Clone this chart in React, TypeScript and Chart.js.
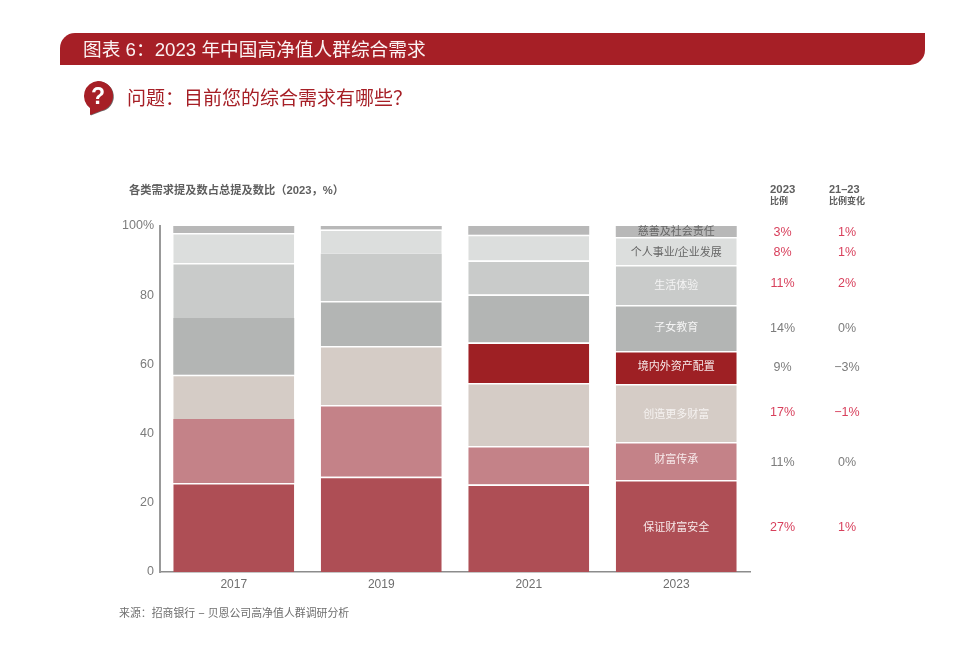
import React, { useEffect, useRef } from "react";
import { Chart, registerables } from "chart.js";

Chart.register(...registerables);

const years = ["2017", "2019", "2021", "2023"];
const needs = ["保证财富安全", "财富传承", "创造更多财富", "境内外资产配置", "子女教育", "生活体验", "个人事业/企业发展", "慈善及社会责任"];
const safety = [25.7, 27.5, 25.3, 26.6];
const inheritance = [18.5, 20.8, 11.1, 11.0];
const moreWealth = [12.8, 17.0, 18.2, 16.7];
const overseas = [0, 0, 11.7, 9.6];
const education = [16.4, 13.0, 13.9, 13.3];
const lifestyle = [15.9, 13.7, 9.8, 11.5];
const career = [8.7, 7.0, 7.5, 8.1];
const charity = [2.0, 1.0, 2.5, 3.2];
const share2023 = ["27%", "11%", "17%", "9%", "14%", "11%", "8%", "3%"];
const change2123 = ["1%", "0%", "−1%", "−3%", "0%", "2%", "1%", "1%"];

const seriesValues = [safety, inheritance, moreWealth, overseas, education, lifestyle, career, charity];
const fills = ["#AE4E55", "#C48288", "#D5CCC6", "#9E2024", "#B3B5B4", "#C9CBCA", "#DCDEDD", "#B8B8B8"];
const labelColours = ["#F7E9EA", "#F7E9EA", "#F5F2F0", "#F7E9EA", "#F4F4F4", "#F4F4F4", "#666666", "#666666"];
const shareHot = [true, false, true, false, false, true, true, true];
const changeHot = [true, false, true, false, false, true, true, true];
const labelNudge = [2, 0, 2, 0, 1, 1, 2, 1];
const valueNudge = [3, 3, 1, 1, 2, 0, 2, 2];

// Series whose top edge has no white separator, per year.
const seamlessTop: Record<string, number[]> = { "2017": [1, 4, 7], "2019": [5], "2021": [], "2023": [] };

const RED = "#A61F26";
const HOT = "#D8405C";
const GREY = "#7C7C7C";
const SANS = '"Liberation Sans", "Noto Sans CJK SC", sans-serif';

const sideText = {
  id: "sideText",
  afterDatasetsDraw(chart: any) {
    const { ctx } = chart;
    const last = years.length - 1;
    const centerX = chart.getDatasetMeta(0).data[last].x;
    ctx.save();
    ctx.textAlign = "center";
    ctx.textBaseline = "middle";
    seriesValues.forEach((_, i) => {
      const bar = chart.getDatasetMeta(i).data[last];
      const mid = (bar.y + bar.base) / 2;
      ctx.font = `11px ${SANS}`;
      ctx.fillStyle = labelColours[i];
      ctx.fillText(needs[i], centerX, mid + labelNudge[i] - 0.5);
      const y = mid + valueNudge[i] - 1;
      ctx.font = `12.5px ${SANS}`;
      ctx.fillStyle = shareHot[i] ? HOT : GREY;
      ctx.fillText(share2023[i], 782.5, y);
      ctx.fillStyle = changeHot[i] ? HOT : GREY;
      ctx.fillText(change2123[i], 847, y);
    });
    ctx.restore();
  },
};

const abs = (l: number, t: number): React.CSSProperties => ({ position: "absolute", left: l, top: t, whiteSpace: "nowrap", fontFamily: SANS });

export default function App() {
  const ref = useRef<HTMLCanvasElement>(null);
  useEffect(() => {
    const chart = new Chart(ref.current!, {
      type: "bar",
      data: {
        labels: years,
        datasets: seriesValues.map((values, i) => ({
          label: needs[i],
          data: values,
          backgroundColor: fills[i],
          borderColor: "#FFFFFF",
          borderSkipped: false,
          borderWidth: (c: any) => {
            const yr = years[c.dataIndex];
            return { top: i === seriesValues.length - 1 || seamlessTop[yr]?.includes(i) || !values[c.dataIndex] ? 0 : 1.5, bottom: 0, left: 0, right: 0 };
          },
          barPercentage: 0.82,
          categoryPercentage: 1,
        })),
      },
      options: {
        animation: false,
        responsive: false,
        devicePixelRatio: 1,
        layout: { padding: { left: 0, top: 226, right: 221, bottom: 44 } },
        plugins: { legend: { display: false }, tooltip: { enabled: false } },
        scales: {
          x: {
            stacked: true,
            grid: { display: false, drawTicks: false },
            border: { color: "#8C8C8C", width: 1.5 },
            ticks: { color: "#6E6E6E", font: { family: SANS, size: 12 }, padding: 5 },
            afterFit: (s: any) => { s.height = 30; },
          },
          y: {
            stacked: true,
            min: 0,
            max: 100,
            grid: { display: false, drawTicks: false },
            border: { color: "#999999", width: 2 },
            ticks: {
              stepSize: 20,
              color: "#7C7C7C",
              font: { family: SANS, size: 12.5 },
              padding: 6,
              callback: (v: any) => (v === 100 ? "100%" : String(v)),
            },
            afterFit: (s: any) => { s.width = 160; },
          },
        },
      },
      plugins: [sideText],
    } as any);
    return () => chart.destroy();
  }, []);

  return (
    <div style={{ position: "absolute", left: 0, top: 0, width: 971, height: 646, background: "#fff", overflow: "hidden" }}>
      <canvas ref={ref} width={971} height={646} style={{ position: "absolute", left: 0, top: 0, width: 971, height: 646 }} />
      <div style={{ position: "absolute", left: 60, top: 33, width: 865, height: 32, background: RED, borderTopLeftRadius: 15, borderBottomRightRadius: 15 }} />
      <div style={{ ...abs(83, 37), color: "#FBF3F3", fontSize: 18.7, lineHeight: "25px" }}>图表 6：2023 年中国高净值人群综合需求</div>
      <svg style={{ position: "absolute", left: 80, top: 78 }} width={38} height={42}>
        <path d="M18 3 a15 15 0 0 1 3 29.7 L10 37 L10 30 A15 15 0 0 1 18 3 Z" fill="#6E6E6E" transform="translate(0.8 0.6)" />
        <path d="M18 3 a15 15 0 0 1 3 29.7 L10 37 L10 30 A15 15 0 0 1 18 3 Z" fill={RED} />
        <text x="18" y="26" textAnchor="middle" fill="#fff" fontSize="23" fontWeight="700" fontFamily={SANS}>?</text>
      </svg>
      <div style={{ ...abs(127, 86), color: RED, fontSize: 19, lineHeight: "26px" }}>问题：目前您的综合需求有哪些？</div>
      <div style={{ ...abs(129, 183), color: "#5F5F5F", fontSize: 11.25, fontWeight: 700, lineHeight: "15px" }}>各类需求提及数占总提及数比（2023，%）</div>
      <div style={{ ...abs(770, 184), color: "#5F5F5F", fontSize: 11.4, fontWeight: 700, lineHeight: "11px" }}>2023<br /><span style={{ fontSize: 9 }}>比例</span></div>
      <div style={{ ...abs(829, 184), color: "#5F5F5F", fontSize: 11, fontWeight: 700, lineHeight: "11px" }}>21–23<br /><span style={{ fontSize: 9 }}>比例变化</span></div>
      <div style={{ ...abs(119, 606), color: "#6E6E6E", fontSize: 10.9, lineHeight: "15px" }}>来源：招商银行 − 贝恩公司高净值人群调研分析</div>
    </div>
  );
}
